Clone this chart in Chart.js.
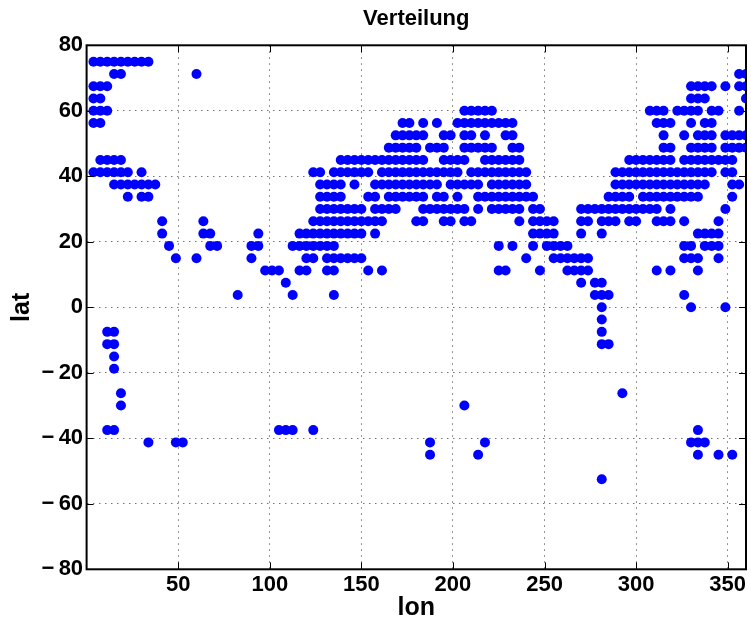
<!DOCTYPE html>
<html>
<head>
<meta charset="utf-8">
<script src="https://cdn.jsdelivr.net/npm/chart.js@4.4.1/dist/chart.umd.min.js"></script>
<style>
  html, body { margin: 0; padding: 0; background: #fff; }
  #wrap { width: 751px; height: 624px; }
</style>
</head>
<body>
<div id="wrap"><canvas id="c" width="751" height="624"></canvas></div>
<script>
// Grid cell size of the data (degrees); lon values below are cell indices on this grid.
const GRID = 3.75;

// Longitude cell indices per latitude row (latitude in degrees)
const lat_75     = [1,2,3,4,5,6,7,8,9];
const lat_71_25  = [4,5,16,95,96];
const lat_67_5   = [1,2,3,88,89,90,91,93,95,96];
const lat_63_75  = [1,2,88,89,90,96];
const lat_60     = [1,2,3,55,56,57,58,59,82,83,84,86,87,88,89,91,92,95];
const lat_56_25  = [1,2,46,47,49,51,54,55,56,57,58,59,60,61,62,83,84,85,88,90,91];
const lat_52_5   = [45,46,47,48,49,52,53,55,56,58,61,62,84,87,89,90,91,93,94,95,96];
const lat_48_75  = [44,45,46,47,48,50,51,52,55,56,57,58,59,62,63,84,85,88,89,90,91,93,94,95,96];
const lat_45     = [2,3,4,5,37,38,39,40,41,42,43,44,45,46,47,48,49,52,53,54,55,58,59,60,61,62,63,79,80,81,82,83,84,85,87,88,89,90,91,92,93,94];
const lat_41_25  = [1,2,3,4,5,6,8,33,34,36,37,38,39,40,41,43,44,45,46,47,48,49,50,51,52,53,54,56,57,58,59,60,61,62,63,64,77,78,79,80,81,82,83,84,85,86,87,88,89,90,91,93,94];
const lat_37_5   = [4,5,6,7,8,9,10,34,35,36,37,39,42,43,44,45,46,47,48,49,50,51,53,54,55,56,57,59,60,61,62,63,64,77,78,79,80,81,82,83,84,85,86,87,88,89,90,94,95];
const lat_33_75  = [6,8,9,34,35,36,37,41,42,44,45,46,47,48,49,51,52,54,57,58,59,60,61,62,63,64,65,76,77,78,79,81,82,83,84,85,86,87,88,89,94];
const lat_30     = [34,35,36,37,38,39,40,42,43,44,45,49,50,51,52,53,54,55,57,59,60,61,62,63,65,66,72,73,74,75,76,77,78,79,80,81,82,83,85,93];
const lat_26_25  = [11,17,33,34,35,36,37,38,39,40,41,42,43,48,49,52,53,55,56,63,65,66,67,68,72,73,75,76,77,79,80,83,84,85,87,92];
const lat_22_5   = [11,17,18,25,31,32,33,34,35,36,37,38,39,40,42,65,66,67,68,72,75,89,90,91,92];
const lat_18_75  = [12,18,19,24,25,30,31,32,33,34,35,36,60,62,65,67,68,69,70,87,88,90,91,92];
const lat_15     = [13,16,24,32,33,35,36,37,38,39,40,64,68,69,70,71,72,73,87,88,89,92];
const lat_11_25  = [26,27,28,31,32,35,36,41,43,60,61,66,70,71,72,73,83,85,89];
const lat_7_5    = [29,72,74,75];
const lat_3_75   = [22,30,36,74,75,76,87];
const lat_0      = [75,88,93];
const lat_m3_75  = [75];
const lat_m7_5   = [3,4,75];
const lat_m11_25 = [3,4,75,76];
const lat_m15    = [4];
const lat_m18_75 = [4];
const lat_m26_25 = [5,78];
const lat_m30    = [5,55];
const lat_m37_5  = [3,4,28,29,30,33,89];
const lat_m41_25 = [9,13,14,50,58,88,89,90];
const lat_m45    = [50,57,89,92,94];
const lat_m52_5  = [75];

const latRows = [
  [75, lat_75], [71.25, lat_71_25], [67.5, lat_67_5], [63.75, lat_63_75],
  [60, lat_60], [56.25, lat_56_25], [52.5, lat_52_5], [48.75, lat_48_75],
  [45, lat_45], [41.25, lat_41_25], [37.5, lat_37_5], [33.75, lat_33_75],
  [30, lat_30], [26.25, lat_26_25], [22.5, lat_22_5], [18.75, lat_18_75],
  [15, lat_15], [11.25, lat_11_25], [7.5, lat_7_5], [3.75, lat_3_75],
  [0, lat_0], [-3.75, lat_m3_75], [-7.5, lat_m7_5], [-11.25, lat_m11_25],
  [-15, lat_m15], [-18.75, lat_m18_75], [-26.25, lat_m26_25], [-30, lat_m30],
  [-37.5, lat_m37_5], [-41.25, lat_m41_25], [-45, lat_m45], [-52.5, lat_m52_5]
];

const xTicks = [50, 100, 150, 200, 250, 300, 350];
const yTicks = [-80, -60, -40, -20, 0, 20, 40, 60, 80];

const points = [];
latRows.forEach(([lat, cells]) => cells.forEach(c => points.push({ x: c * GRID, y: lat })));

const FONT = '"Liberation Sans", Arial, Helvetica, sans-serif';

const boxPlugin = {
  id: 'box',
  afterDatasetsDraw(chart) {
    const { ctx, chartArea: a, scales: { x, y } } = chart;
    ctx.save();
    ctx.strokeStyle = '#000';
    ctx.lineWidth = 1;
    ctx.beginPath();
    xTicks.forEach(v => {
      const px = Math.round(x.getPixelForValue(v)) + 0.5;
      ctx.moveTo(px, a.bottom); ctx.lineTo(px, a.bottom - 7);
      ctx.moveTo(px, a.top); ctx.lineTo(px, a.top + 7);
    });
    yTicks.forEach(v => {
      const py = Math.round(y.getPixelForValue(v)) + 0.5;
      ctx.moveTo(a.left, py); ctx.lineTo(a.left + 7, py);
      ctx.moveTo(a.right, py); ctx.lineTo(a.right - 7, py);
    });
    ctx.stroke();
    ctx.lineWidth = 2;
    ctx.strokeRect(a.left, a.top, a.right - a.left, a.bottom - a.top);
    ctx.restore();
  }
};

new Chart(document.getElementById('c'), {
  type: 'scatter',
  data: {
    datasets: [{
      data: points,
      backgroundColor: '#0000ff',
      borderWidth: 0,
      pointRadius: 5,
      pointHoverRadius: 5,
      clip: 0
    }]
  },
  options: {
    responsive: false,
    animation: false,
    events: [],
    layout: { padding: { left: 0, right: 1.6, top: 0, bottom: 0 } },
    plugins: {
      legend: { display: false },
      tooltip: { enabled: false },
      title: {
        display: true,
        fullSize: false,
        text: 'Verteilung',
        color: '#000',
        font: { family: FONT, size: 22, weight: 'bold' },
        padding: { top: 5.5, bottom: 13.4 }
      }
    },
    scales: {
      x: {
        type: 'linear',
        min: 0, max: 360,
        afterBuildTicks: s => { s.ticks = xTicks.map(v => ({ value: v })); },
        afterFit: s => { s.height = 54.7; },
        grid: { color: 'rgba(0,0,0,0.55)', lineWidth: 1, drawTicks: false },
        border: { display: false, dash: [1.5, 4.5] },
        ticks: { color: '#000', padding: 2, maxRotation: 0, autoSkip: false,
                 font: { family: FONT, size: 22, weight: 'bold' } },
        title: { display: true, text: 'lon', color: '#000',
                 font: { family: FONT, size: 25, weight: 'bold' }, padding: { top: 0, bottom: 0.5 } }
      },
      y: {
        type: 'linear',
        min: -80, max: 80,
        afterBuildTicks: s => { s.ticks = yTicks.map(v => ({ value: v })); },
        afterFit: s => { s.width = 86.6; },
        grid: { color: 'rgba(0,0,0,0.55)', lineWidth: 1, drawTicks: false },
        border: { display: false, dash: [1.5, 4.5] },
        ticks: { color: '#000', padding: 3.5, autoSkip: false,
                 font: { family: FONT, size: 22, weight: 'bold' },
                 callback: v => (v < 0 ? '\u2212\u2009' + Math.abs(v) : String(v)) },
        title: { display: true, text: 'lat', color: '#000',
                 font: { family: FONT, size: 25, weight: 'bold' }, padding: { top: 7, bottom: 0 } }
      }
    }
  },
  plugins: [boxPlugin]
});
</script>
</body>
</html>
